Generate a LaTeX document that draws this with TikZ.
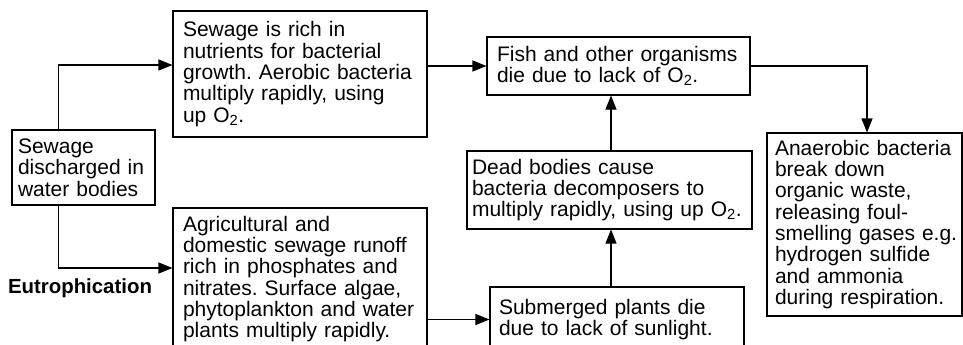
\documentclass[tikz,border=0pt]{standalone}
\usepackage{fontspec}
\setmainfont{Liberation Sans}
\usetikzlibrary{arrows.meta}
\tikzset{
  box/.style={draw, line width=1.1pt, align=left, inner ysep=0pt, font=\fontsize{21}{21.3}\selectfont, anchor=center,
    execute at begin node={\frenchspacing\hyphenpenalty=10000\exhyphenpenalty=10000}},
  arr/.style={line width=1.1pt, -{Triangle[length=14pt,width=11pt]}},
}
\begin{document}
\begin{tikzpicture}[x=1pt,y=-1pt]
\useasboundingbox (0,0) rectangle (963,345);
\node[box, inner xsep=6pt, text width=131pt, minimum height=75pt] (sew) at (83.5,167.5)
  {Sewage\\discharged in\\water bodies};
\node[box, inner xsep=10pt, text width=234pt, minimum height=126pt] (rich) at (300,74)
  {Sewage is rich in\\nutrients for bacterial\\growth. Aerobic bacteria\\multiply rapidly, using\\up O\textsubscript{2}.};
\node[box, inner xsep=10pt, text width=234pt, minimum height=142pt] (agr) at (300,279)
  {Agricultural and\\domestic sewage runoff\\rich in phosphates and\\nitrates. Surface algae,\\phytoplankton and water\\plants multiply rapidly.};
\node[font=\fontsize{20.4}{21}\selectfont\bfseries, inner sep=0pt] (eut) at (80,288) {Eutrophication};
\node[box, inner xsep=10pt, text width=243pt, minimum height=58pt] (fish) at (618.5,66)
  {Fish and other organisms\\die due to lack of O\textsubscript{2}.};
\node[box, inner xsep=5pt, text width=275pt, minimum height=78pt] (dead) at (609.5,190)
  {Dead bodies cause\\bacteria decomposers to\\multiply rapidly, using up O\textsubscript{2}.};
\node[box, inner xsep=9pt, text width=236pt, minimum height=65pt] (sub) at (617,319.5)
  {Submerged plants die\\due to lack of sunlight.};
\node[box, inner xsep=8pt, text width=179pt, minimum height=183pt] (ana) at (864.5,224.5)
  {Anaerobic bacteria\\break down\\organic waste,\\releasing foul-\\\mbox{smelling gases e.g.}\\hydrogen sulfide\\and ammonia\\during respiration.};
\draw[arr] ([xshift=47pt]sew.north west) |- ([yshift=9pt]rich.west);
\draw[arr] ([xshift=47pt]sew.south west) |- ([yshift=11pt]agr.west);
\draw[arr] (fish.west -| rich.east) -- (fish.west);
\draw[arr] (fish.east) -| ([xshift=2.5pt]ana.north);
\draw[arr] ([xshift=1.5pt]dead.north) -- ([xshift=1.5pt]dead.north |- fish.south);
\draw[arr] ([xshift=1.5pt]dead.south |- sub.north) -- ([xshift=1.5pt]dead.south);
\draw[arr] (sub.west -| agr.east) -- (sub.west);
\end{tikzpicture}
\end{document}
